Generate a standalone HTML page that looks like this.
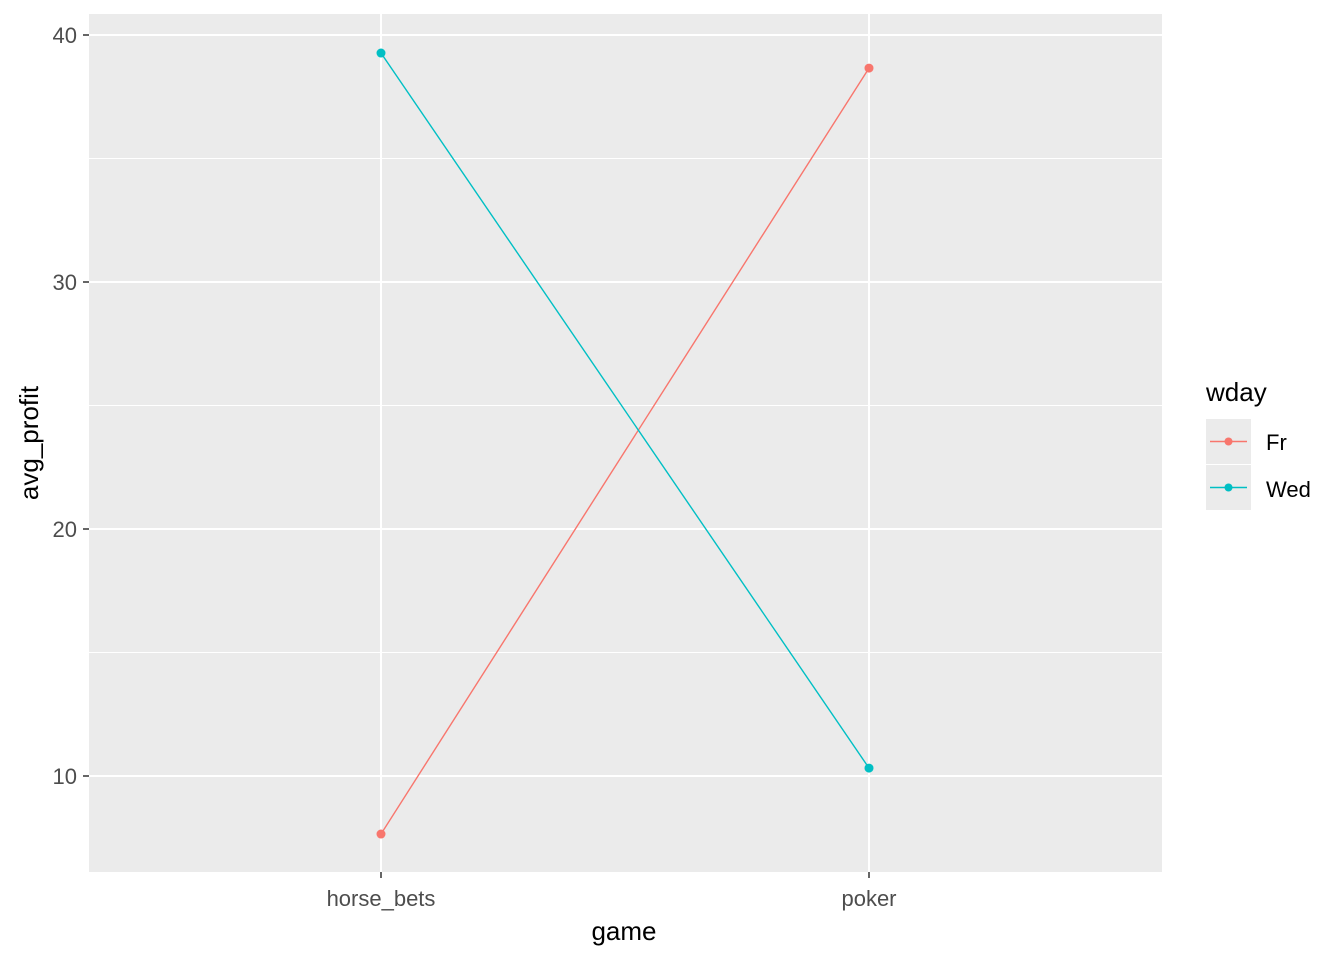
<!DOCTYPE html>
<html><head><meta charset="utf-8"><style>
body{margin:0;background:#fff;font-family:"Liberation Sans",Arial,sans-serif}
</style></head><body>
<svg id="chart" width="1344" height="960" xmlns="http://www.w3.org/2000/svg">
<rect x="0" y="0" width="1344" height="960" fill="#fff"/>
<rect x="89" y="14" width="1073" height="858" fill="#ebebeb"/>
<g id="grid"></g>
<g id="marks"></g>
<g id="axes"></g>
<text x="624" y="940" font-size="26" text-anchor="middle" fill="#000">game</text>
<text transform="translate(38,443) rotate(-90)" font-size="26" text-anchor="middle" fill="#000">avg_profit</text>
<g>
<text x="1206" y="401" font-size="26" fill="#000">wday</text>
<g>
<rect x="1206" y="419" width="45" height="45" fill="#ebebeb"/>
<line x1="1210" y1="441.5" x2="1247" y2="441.5" stroke="#F8766D" stroke-width="1.4"/>
<circle cx="1228.5" cy="441.5" r="4" fill="#F8766D"/>
<text x="1266" y="450" font-size="22" fill="#000">Fr</text></g>
<g>
<rect x="1206" y="465" width="45" height="45" fill="#ebebeb"/>
<line x1="1210" y1="487.5" x2="1247" y2="487.5" stroke="#00BFC4" stroke-width="1.4"/>
<circle cx="1228.5" cy="487.5" r="4" fill="#00BFC4"/>
<text x="1266" y="497" font-size="22" fill="#000">Wed</text></g>
</g>
</svg>
<script>
const categories=["horse_bets","poker"];
const seriesNames=["Fr","Wed"];
const frValues=[7.65,38.66];
const wedValues=[39.27,10.32];
const yTicks=[10,20,30,40];
const colors={Fr:"#F8766D",Wed:"#00BFC4"};
const NS="http://www.w3.org/2000/svg";
function xScale(i){return 381+i*488;}
function yScale(v){return 776-(v-10)*24.7;}
function mk(tag,attrs,parent){const e=document.createElementNS(NS,tag);for(const k in attrs)e.setAttribute(k,attrs[k]);parent.appendChild(e);return e;}
const grid=document.getElementById('grid'),marks=document.getElementById('marks'),axes=document.getElementById('axes');
for(let i=0;i<yTicks.length-1;i++){const m=(yTicks[i]+yTicks[i+1])/2;
const l=mk('line',{x1:89,x2:1162,y1:yScale(m),y2:yScale(m),stroke:'#fff','stroke-width':1},grid);

}
yTicks.forEach(t=>{const y=yScale(t);
const l=mk('line',{x1:89,x2:1162,y1:y,y2:y,stroke:'#fff','stroke-width':2},grid);


mk('line',{x1:83,x2:89,y1:y,y2:y,stroke:'#333','stroke-width':1.5},axes);
const tx=mk('text',{x:77,y:y+8,'font-size':22,'text-anchor':'end',fill:'#4d4d4d'},axes);tx.textContent=t;

});
categories.forEach((c,i)=>{const x=xScale(i);
const l=mk('line',{x1:x,x2:x,y1:14,y2:872,stroke:'#fff','stroke-width':2},grid);


mk('line',{x1:x,x2:x,y1:872,y2:878,stroke:'#333','stroke-width':1.5},axes);
const tx=mk('text',{x:x,y:906,'font-size':22,'text-anchor':'middle',fill:'#4d4d4d'},axes);tx.textContent=c;

});
[[seriesNames[0],frValues],[seriesNames[1],wedValues]].forEach(([name,vals])=>{
const pts=vals.map((v,i)=>xScale(i)+','+yScale(v)).join(' ');
const pl=mk('polyline',{points:pts,fill:'none',stroke:colors[name],'stroke-width':1.4},marks);


vals.forEach((v,i)=>{const c=mk('circle',{cx:xScale(i),cy:yScale(v),r:4.5,fill:colors[name]},marks);

});});
</script>
</body></html>
